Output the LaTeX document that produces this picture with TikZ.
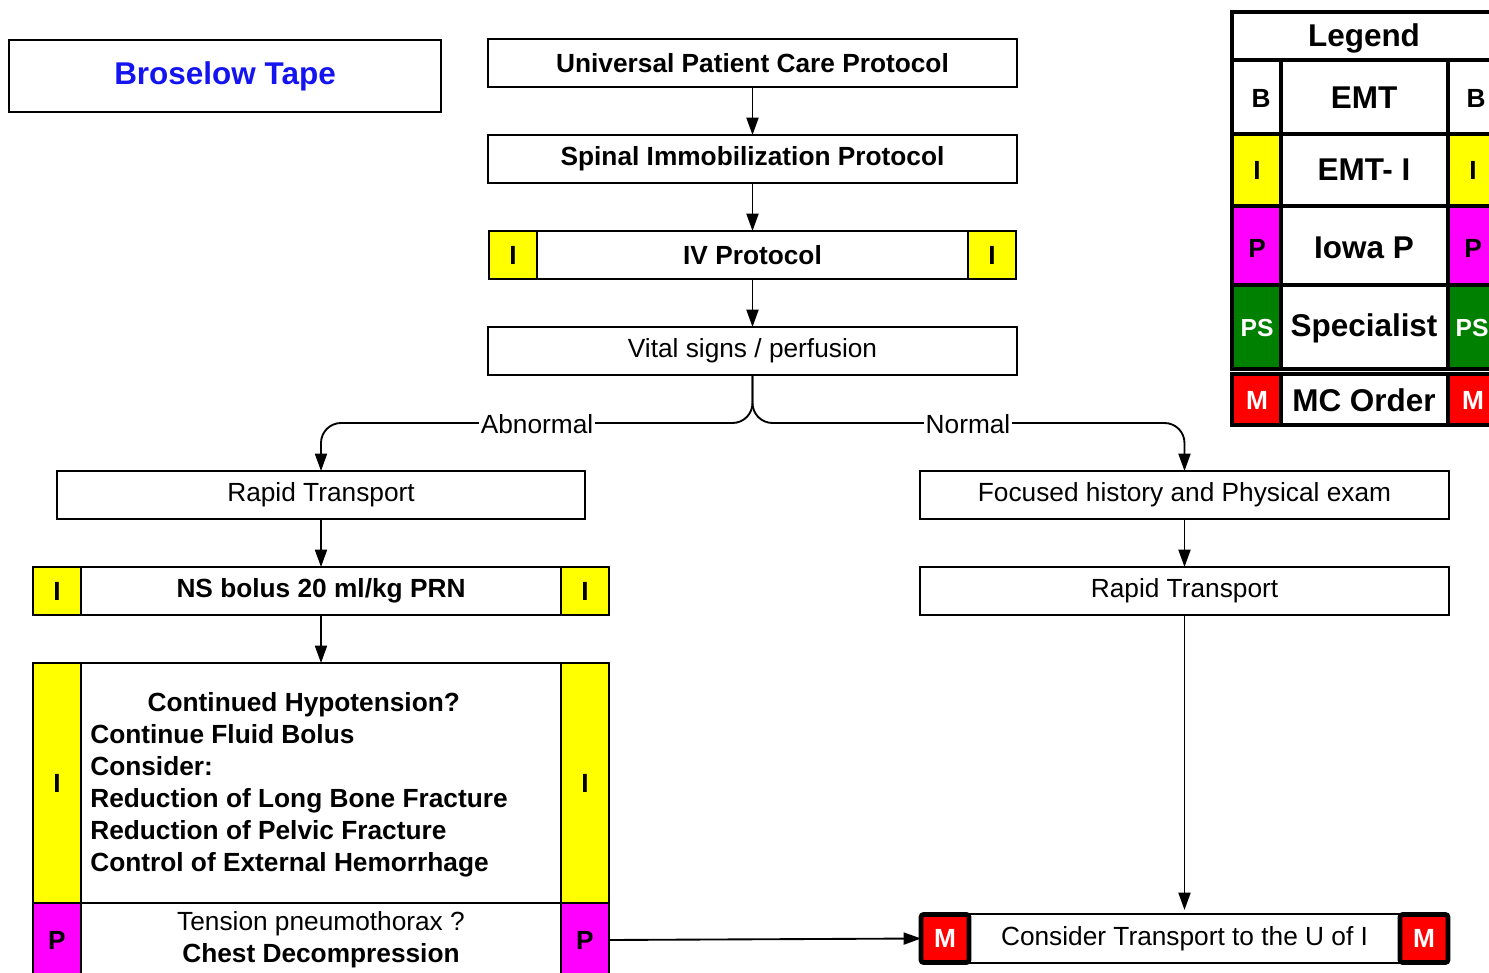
\documentclass[tikz,border=0pt]{standalone}
\usepackage{fontspec}
\setmainfont{Liberation Sans}
\usetikzlibrary{arrows.meta}
\definecolor{tagyellow}{RGB}{255,255,0}
\definecolor{tagmagenta}{RGB}{255,0,255}
\definecolor{taggreen}{RGB}{0,128,0}
\definecolor{tagred}{RGB}{255,0,0}
\definecolor{titleblue}{RGB}{20,20,240}
\newcommand\mainsize{\fontsize{19.7pt}{24pt}\selectfont}
\newcommand\legsize{\fontsize{23.6pt}{28pt}\selectfont}

\begin{document}
\begin{tikzpicture}[x=0.75pt,y=-0.75pt,
  base/.style={draw, line width=1.3pt, inner sep=0pt, outer sep=0pt,
    font=\mainsize, align=center},
  box/.style={base, fill=white, minimum width=396.75pt, minimum height=36pt},
  boldbox/.style={box, font=\mainsize\bfseries},
  tag/.style={base, minimum width=36pt, minimum height=36pt, font=\mainsize\bfseries},
  itag/.style={tag, fill=tagyellow},
  ptag/.style={tag, fill=tagmagenta},
  mtag/.style={tag, fill=tagred, text=white, line width=3.6pt, rounded corners=2pt},
  arr/.style={line width=1.4pt, -{Triangle[length=13pt,width=9pt]}},
  lbl/.style={fill=white, inner sep=1pt, font=\mainsize},
  legline/.style={line width=3.6pt},
  legtext/.style={font=\legsize\bfseries},
  legtag/.style={font=\mainsize\bfseries}
]
\useasboundingbox (0,0) rectangle (1489,973);

% title box
\node[boldbox, minimum width=324pt, minimum height=54pt, text=titleblue,
  font=\legsize\bfseries] (tape) at (225,76) {Broselow Tape};

% main column
\node[boldbox] (upcp) at (752.5,63) {Universal Patient Care Protocol};
\node[boldbox] (spine) at (752.5,159) {Spinal Immobilization Protocol};
\node[boldbox, minimum width=323.25pt] (iv) at (752.5,255) {IV Protocol};
\node[itag, anchor=east] (ivL) at (iv.west) {I};
\node[itag, anchor=west] (ivR) at (iv.east) {I};
\node[box] (vital) at (752.5,351) {Vital signs / perfusion};

% abnormal branch
\node[box, minimum width=396pt] (rapidL) at (321,495) {Rapid Transport};
\node[boldbox, minimum width=360pt] (ns) at (321,591) {NS bolus 20 ml/kg PRN};
\node[itag, anchor=east] (nsL) at (ns.west) {I};
\node[itag, anchor=west] (nsR) at (ns.east) {I};

\node[box, minimum width=360pt, minimum height=180pt] (hypo) at (321,783) {};
\node[font=\mainsize\bfseries, align=left, inner sep=0pt] (hypotext) at (299,785)
  {\hspace*{43pt}Continued Hypotension?\\
   Continue Fluid Bolus\\
   Consider:\\
   Reduction of Long Bone Fracture\\
   Reduction of Pelvic Fracture\\
   Control of External Hemorrhage};
\node[itag, minimum height=180pt, anchor=east] (hypoL) at (hypo.west) {I};
\node[itag, minimum height=180pt, anchor=west] (hypoR) at (hypo.east) {I};

\node[box, minimum width=360pt, minimum height=55.5pt, anchor=north] (tension)
  at (hypo.south) {Tension pneumothorax ?\\\textbf{Chest Decompression}};
\node[ptag, minimum height=55.5pt, anchor=east] (tensionL) at (tension.west) {P};
\node[ptag, minimum height=55.5pt, anchor=west] (tensionR) at (tension.east) {P};

% normal branch
\node[box] (focus) at (1184.5,495) {Focused history and Physical exam};
\node[box] (rapidR) at (1184.5,591) {Rapid Transport};
\node[box, minimum width=323.25pt, minimum height=36.75pt] (uofi) at (1184.5,938.5)
  {Consider Transport to the U of I};
\node[mtag, anchor=east] (uofiL) at (uofi.west) {M};
\node[mtag, anchor=west] (uofiR) at (uofi.east) {M};

% connectors
\draw[arr] (upcp) -- (spine);
\draw[arr] (spine) -- (iv);
\draw[arr] (iv) -- (vital);
\coordinate (split) at (752.5,423);
\draw[arr, rounded corners=15pt] (vital.south) -- (split) -| (rapidL.north);
\draw[arr, rounded corners=15pt] (vital.south) -- (split) -| (focus.north);
\node[lbl] (abnLbl) at (537,424) {Abnormal};
\node[lbl] (normLbl) at (968,424) {Normal};
\draw[arr] (rapidL) -- (ns);
\draw[arr] (ns) -- (hypo);
\draw[arr] (focus) -- (rapidR);
\draw[arr, shorten >=3pt] (rapidR) -- (uofi.north);
\draw[arr] (tensionR.east) -- (uofiL.west);

% legend
\begin{scope}[legline]
  \draw[fill=white] (1232,12) rectangle (1500,60);
  \draw[fill=white] (1232,60) rectangle (1281,134);
  \draw[fill=white] (1281,60) rectangle (1448,134);
  \draw[fill=white] (1448,60) rectangle (1500,134);
  \draw[fill=tagyellow] (1232,134) rectangle (1281,206);
  \draw[fill=white] (1281,134) rectangle (1448,206);
  \draw[fill=tagyellow] (1448,134) rectangle (1500,206);
  \draw[fill=tagmagenta] (1232,206) rectangle (1281,285);
  \draw[fill=white] (1281,206) rectangle (1448,285);
  \draw[fill=tagmagenta] (1448,206) rectangle (1500,285);
  \draw[fill=taggreen] (1232,285) rectangle (1281,369);
  \draw[fill=white] (1281,285) rectangle (1448,369);
  \draw[fill=taggreen] (1448,285) rectangle (1500,369);
  \draw[fill=tagred] (1232,374) rectangle (1281,425);
  \draw[fill=white] (1281,374) rectangle (1448,425);
  \draw[fill=tagred] (1448,374) rectangle (1500,425);
\end{scope}
\node[legtext] (legTitle) at (1364,38) {Legend};
\node[legtext] (legB) at (1364,98) {EMT};
\node[legtext] (legI) at (1364,170) {EMT- I};
\node[legtext] (legP) at (1364,248) {Iowa P};
\node[legtext] (legPS) at (1364,328) {Specialist};
\node[legtext] (legM) at (1364,400) {MC Order};
\node[legtag] (tB1) at (1261,98) {B};
\node[legtag] (tB2) at (1476,98) {B};
\node[legtag] (tI1) at (1257,170) {I};
\node[legtag] (tI2) at (1473,170) {I};
\node[legtag] (tP1) at (1257,248) {P};
\node[legtag] (tP2) at (1473,248) {P};
\node[legtag, text=white, font=\fontsize{18.5pt}{22pt}\selectfont\bfseries] (tPS1) at (1257,328) {PS};
\node[legtag, text=white, font=\fontsize{18.5pt}{22pt}\selectfont\bfseries] (tPS2) at (1472,328) {PS};
\node[legtag, text=white] (tM1) at (1257,400) {M};
\node[legtag, text=white] (tM2) at (1473,400) {M};
\end{tikzpicture}
\end{document}
